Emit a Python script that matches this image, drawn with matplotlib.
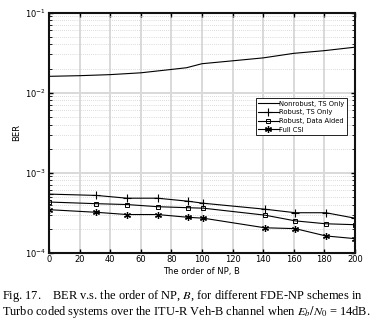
import matplotlib
matplotlib.use("Agg")
import matplotlib.pyplot as plt
import numpy as np

# Data
x_nonrobust = [0, 20, 40, 60, 80, 90, 100, 120, 140, 160, 180, 200]
ber_nonrobust = [0.0160, 0.0163, 0.0168, 0.0177, 0.0195, 0.0205, 0.0230, 0.0250,
                 0.0272, 0.0310, 0.0335, 0.0370]
x_pts = [0, 31, 51, 71, 91, 101, 141, 161, 181, 200]
ber_robust_ts = [5.4e-4, 5.2e-4, 4.8e-4, 4.8e-4, 4.4e-4, 4.15e-4, 3.5e-4, 3.16e-4, 3.16e-4, 2.7e-4]
ber_robust_da = [4.3e-4, 4.1e-4, 4.0e-4, 3.76e-4, 3.65e-4, 3.6e-4, 2.95e-4, 2.5e-4, 2.3e-4, 2.24e-4]
ber_full_csi = [3.45e-4, 3.2e-4, 3.0e-4, 3.0e-4, 2.77e-4, 2.7e-4, 2.05e-4, 2.0e-4, 1.62e-4, 1.5e-4]
labels = ["Nonrobust, TS Only", "Robust, TS Only", "Robust, Data Aided", "Full CSI"]
xticks = [0, 20, 40, 60, 80, 100, 120, 140, 160, 180, 200]

plt.rcParams['font.family'] = ['DejaVu Sans']
plt.rcParams['mathtext.fontset'] = 'stix'
fig = plt.figure(figsize=(3.85, 3.24), dpi=100)
ax = fig.add_axes([0.127, 0.22, 0.795, 0.741])

ax.semilogy(x_nonrobust, ber_nonrobust, '-', color='black', lw=0.8, label=labels[0])
ax.semilogy(x_pts, ber_robust_ts, '-', marker='+', color='black', lw=0.8, ms=6, mew=0.8, label=labels[1])
ax.semilogy(x_pts, ber_robust_da, '-', marker='s', color='black', lw=0.8, ms=3, mew=0.7,
            mfc='none', label=labels[2])
ax.semilogy(x_pts, ber_full_csi, '-', marker=(6, 2, 0), color='black', lw=0.8, ms=5, mew=0.9,
            label=labels[3])

ax.set_xlim(0, 200)
ax.set_ylim(1e-4, 1e-1)
ax.set_xticks(xticks)
ax.grid(True, which='major', color='#d9d9d9', lw=1.4, ls='-')
ax.grid(True, which='minor', axis='y', color='#cfcfcf', lw=0.6, ls=(0, (1, 1.5)))
ax.set_axisbelow(True)
ax.tick_params(which='both', direction='in', top=True, right=True, labelsize=6, pad=2)
ax.tick_params(which='major', length=3, width=1)
ax.tick_params(which='minor', length=2, width=0.6)
for s in ax.spines.values():
    s.set_linewidth(1.5)
    s.set_color('#111111')

ax.set_xlabel("The order of NP, B", fontsize=6, labelpad=2)
ax.set_ylabel("BER", fontsize=6, labelpad=3)

leg = ax.legend(loc='upper right', bbox_to_anchor=(0.975, 0.645), fontsize=4.9, frameon=True,
                fancybox=False, edgecolor='black', framealpha=1, borderpad=0.4,
                labelspacing=0.4, handlelength=3.0, handletextpad=0.1, borderaxespad=0)
leg.get_frame().set_linewidth(0.6)

caption = ("Fig. 17.    BER v.s. the order of NP, $B$, for different FDE-NP schemes in\n"
           "Turbo coded systems over the ITU-R Veh-B channel when $E_b/N_0$ = 14dB.")
fig.text(0.005, 0.012, caption, fontsize=8.9, family='Liberation Serif', ha='left',
         va='bottom', linespacing=1.05)

fig.savefig("out.png", dpi=100)
